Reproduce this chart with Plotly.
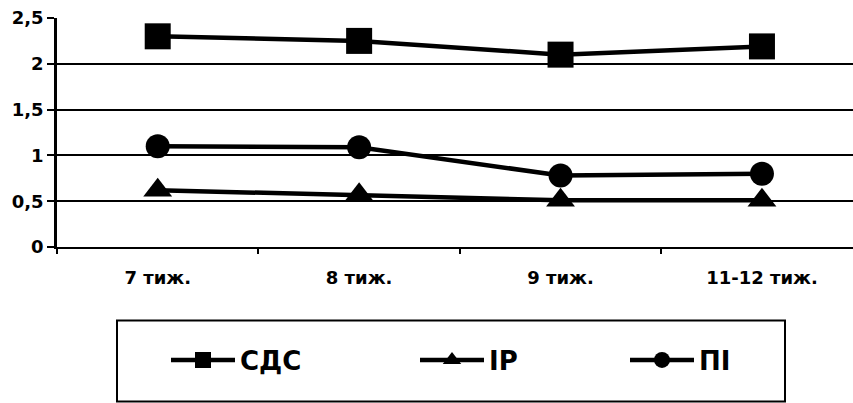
import plotly.graph_objects as go

categories = ["7 тиж.", "8 тиж.", "9 тиж.", "11-12 тиж."]
sds = [2.3, 2.25, 2.1, 2.19]
ir = [0.62, 0.57, 0.51, 0.51]
pi = [1.1, 1.09, 0.78, 0.8]
series_names = ["СДС", "ІР", "ПІ"]

FONT = "DejaVu Sans"
W, H = 853, 403
ML, MR, MT, MB = 57, 0, 18, 156
pw = W - ML - MR
ph = H - MT - MB

def px_x(p):
    return (p - ML) / pw

def px_y(p):
    return (H - MB - p) / ph

fig = go.Figure()
specs = [
    (series_names[0], sds, "square", 26, "legend"),
    (series_names[1], ir, "triangle-up", 25, "legend2"),
    (series_names[2], pi, "circle", 24, "legend3"),
]
for name, vals, sym, size, lg in specs:
    fig.add_trace(go.Scatter(
        x=categories, y=vals, name=name, mode="lines+markers",
        line=dict(color="black", width=4.5),
        marker=dict(symbol=sym, size=size, color="black"),
        legend=lg,
    ))

leg_common = dict(
    orientation="h", yanchor="middle", xanchor="left",
    font=dict(family=FONT, size=26, color="black", weight="bold"),
    bgcolor="rgba(0,0,0,0)", itemwidth=64,
)
fig.update_layout(
    legend=dict(x=px_x(166), y=px_y(360), **leg_common),
    legend2=dict(x=px_x(415), y=px_y(360), **leg_common),
    legend3=dict(x=px_x(625), y=px_y(360), **leg_common),
)

fig.add_shape(type="rect", xref="paper", yref="paper",
              x0=px_x(117), x1=px_x(785), y0=px_y(401.5), y1=px_y(320.5),
              line=dict(color="black", width=2), fillcolor="rgba(0,0,0,0)")

fig.update_layout(
    width=W, height=H,
    margin=dict(l=ML, r=MR, t=MT, b=MB, pad=0),
    paper_bgcolor="white", plot_bgcolor="white",
    separators=", ",
    showlegend=True,
    xaxis=dict(
        type="category", range=[-0.5, 3.452],
        showgrid=False, showline=True, linecolor="black", linewidth=2,
        ticks="outside", tickson="boundaries", ticklen=5, tickwidth=1.5, tickcolor="black",
        ticklabelstandoff=13,
        tickfont=dict(family=FONT, size=18, color="black", weight="bold"),
        zeroline=False,
    ),
    yaxis=dict(
        range=[0, 2.5], dtick=0.5, tick0=0,
        showgrid=True, gridcolor="black", gridwidth=1.5,
        showline=True, linecolor="black", linewidth=2.5,
        ticks="outside", ticklen=7, tickwidth=2, tickcolor="black",
        tickfont=dict(family=FONT, size=18, color="black", weight="bold"),
        zeroline=False,
    ),
)

fig.write_html("out.html")
